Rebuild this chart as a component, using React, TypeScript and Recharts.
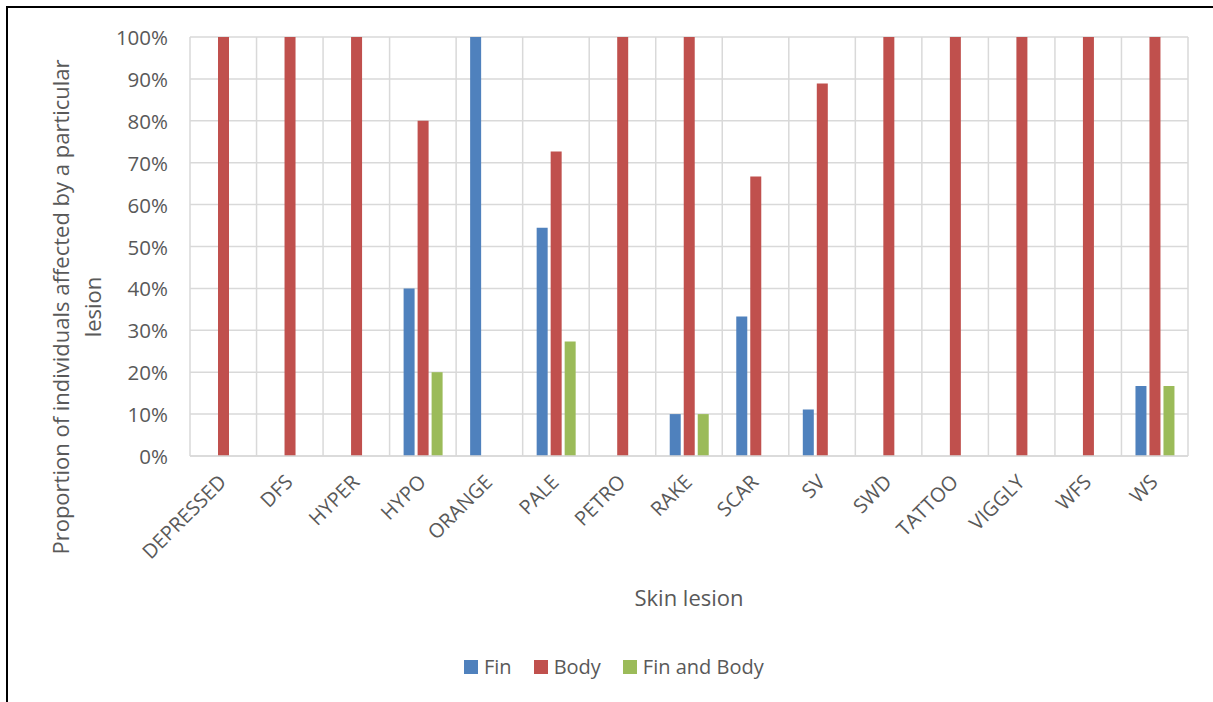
import React from 'react';
import { BarChart, Bar, XAxis, YAxis, CartesianGrid, Legend } from 'recharts';

const categories = ['DEPRESSED', 'DFS', 'HYPER', 'HYPO', 'ORANGE', 'PALE', 'PETRO', 'RAKE', 'SCAR', 'SV', 'SWD', 'TATTOO', 'VIGGLY', 'WFS', 'WS'];
const finValues = [0, 0, 0, 0.4, 1, 0.545, 0, 0.1, 0.333, 0.111, 0, 0, 0, 0, 0.167];
const bodyValues = [1, 1, 1, 0.8, 0, 0.727, 1, 1, 0.667, 0.889, 1, 1, 1, 1, 1];
const finAndBodyValues = [0, 0, 0, 0.2, 0, 0.273, 0, 0.1, 0, 0, 0, 0, 0, 0, 0.167];
const yTicks = [0, 0.1, 0.2, 0.3, 0.4, 0.5, 0.6, 0.7, 0.8, 0.9, 1];

const seriesNames = ['Fin', 'Body', 'Fin and Body'];
const seriesColors = ['#4F81BD', '#C0504D', '#9BBB59'];

const data = categories.map((c, i) => ({
  name: c,
  fin: finValues[i],
  body: bodyValues[i],
  finBody: finAndBodyValues[i],
}));

const FONT = '"Open Sans", sans-serif';
const TXT = '#595959';

const XTick = (props: any) => {
  const { x, y, payload } = props;
  const ax = x - 1;
  const ay = y + 14;
  return (
    <text
      x={ax}
      y={ay}
      transform={`rotate(-45, ${ax}, ${ay})`}
      textAnchor="end"
      dominantBaseline="central"
      fontFamily={FONT}
      fontSize={20}
      fill={TXT}
    >
      {payload.value}
    </text>
  );
};

const YTick = (props: any) => {
  const { x, y, payload } = props;
  return (
    <text x={x} y={y} textAnchor="end" dominantBaseline="central" fontFamily={FONT} fontSize={20.5} fill={TXT}>
      {Math.round(payload.value * 100) + '%'}
    </text>
  );
};

const YLabel = () => (
  <g fontFamily={FONT} fontSize={22} fill={TXT}>
    <text x={60} y={307} textAnchor="middle" dominantBaseline="central" transform="rotate(-90, 60, 307)">
      Proportion of individuals affected by a particular
    </text>
    <text x={92} y={307} textAnchor="middle" dominantBaseline="central" transform="rotate(-90, 92, 307)">
      lesion
    </text>
  </g>
);

const XLabel = (props: any) => {
  const vb = props.viewBox || {};
  return (
    <text x={vb.x + vb.width / 2} y={597} textAnchor="middle" dominantBaseline="central" fontFamily={FONT} fontSize={22} fill={TXT}>
      Skin lesion
    </text>
  );
};

const LegendContent = () => (
  <div style={{ display: 'flex', alignItems: 'center', fontFamily: FONT, fontSize: 20, color: TXT, lineHeight: '24px' }}>
    {seriesNames.map((n, i) => (
      <div key={n} style={{ display: 'flex', alignItems: 'center', marginRight: 22 }}>
        <span style={{ display: 'inline-block', width: 14, height: 14, background: seriesColors[i], marginRight: 6 }} />
        <span>{n}</span>
      </div>
    ))}
  </div>
);

export default function App() {
  return (
    <div style={{ position: 'absolute', left: 0, top: 0, width: 1213, height: 702, background: '#fff', overflow: 'hidden' }}>
      <div style={{ position: 'absolute', left: 6, top: 6, width: 1220, height: 710, borderLeft: '2px solid #000', borderTop: '2px solid #000' }} />
      <div style={{ position: 'absolute', left: 0, top: 0 }}>
        <BarChart
          width={1213}
          height={702}
          data={data}
          margin={{ top: 37, left: 90, right: 25, bottom: 92 }}
          barGap={3}
          barSize={11}
        >
          <CartesianGrid
            stroke="#D9D9D9"
            strokeWidth={1.5}
            verticalCoordinatesGenerator={({ offset }: any) =>
              categories.map((_, i) => offset.left + (i * offset.width) / categories.length).concat([offset.left + offset.width])
            }
          />
          <XAxis
            dataKey="name"
            interval={0}
            height={130}
            tick={<XTick />}
            tickLine={false}
            axisLine={{ stroke: '#D9D9D9', strokeWidth: 1.5 }}
            label={<XLabel />}
          />
          <YAxis
            width={100}
            domain={[0, 1]}
            ticks={yTicks}
            interval={0}
            tick={<YTick />}
            tickLine={false}
            axisLine={false}
            tickMargin={16}
            label={<YLabel />}
          />
          <Legend
            content={<LegendContent />}
            wrapperStyle={{ left: 464, top: 655, width: 400, bottom: 'auto', height: 24 }}
          />
          <Bar dataKey="fin" name="Fin" fill={seriesColors[0]} isAnimationActive={false} />
          <Bar dataKey="body" name="Body" fill={seriesColors[1]} isAnimationActive={false} />
          <Bar dataKey="finBody" name="Fin and Body" fill={seriesColors[2]} isAnimationActive={false} />
        </BarChart>
      </div>
    </div>
  );
}
